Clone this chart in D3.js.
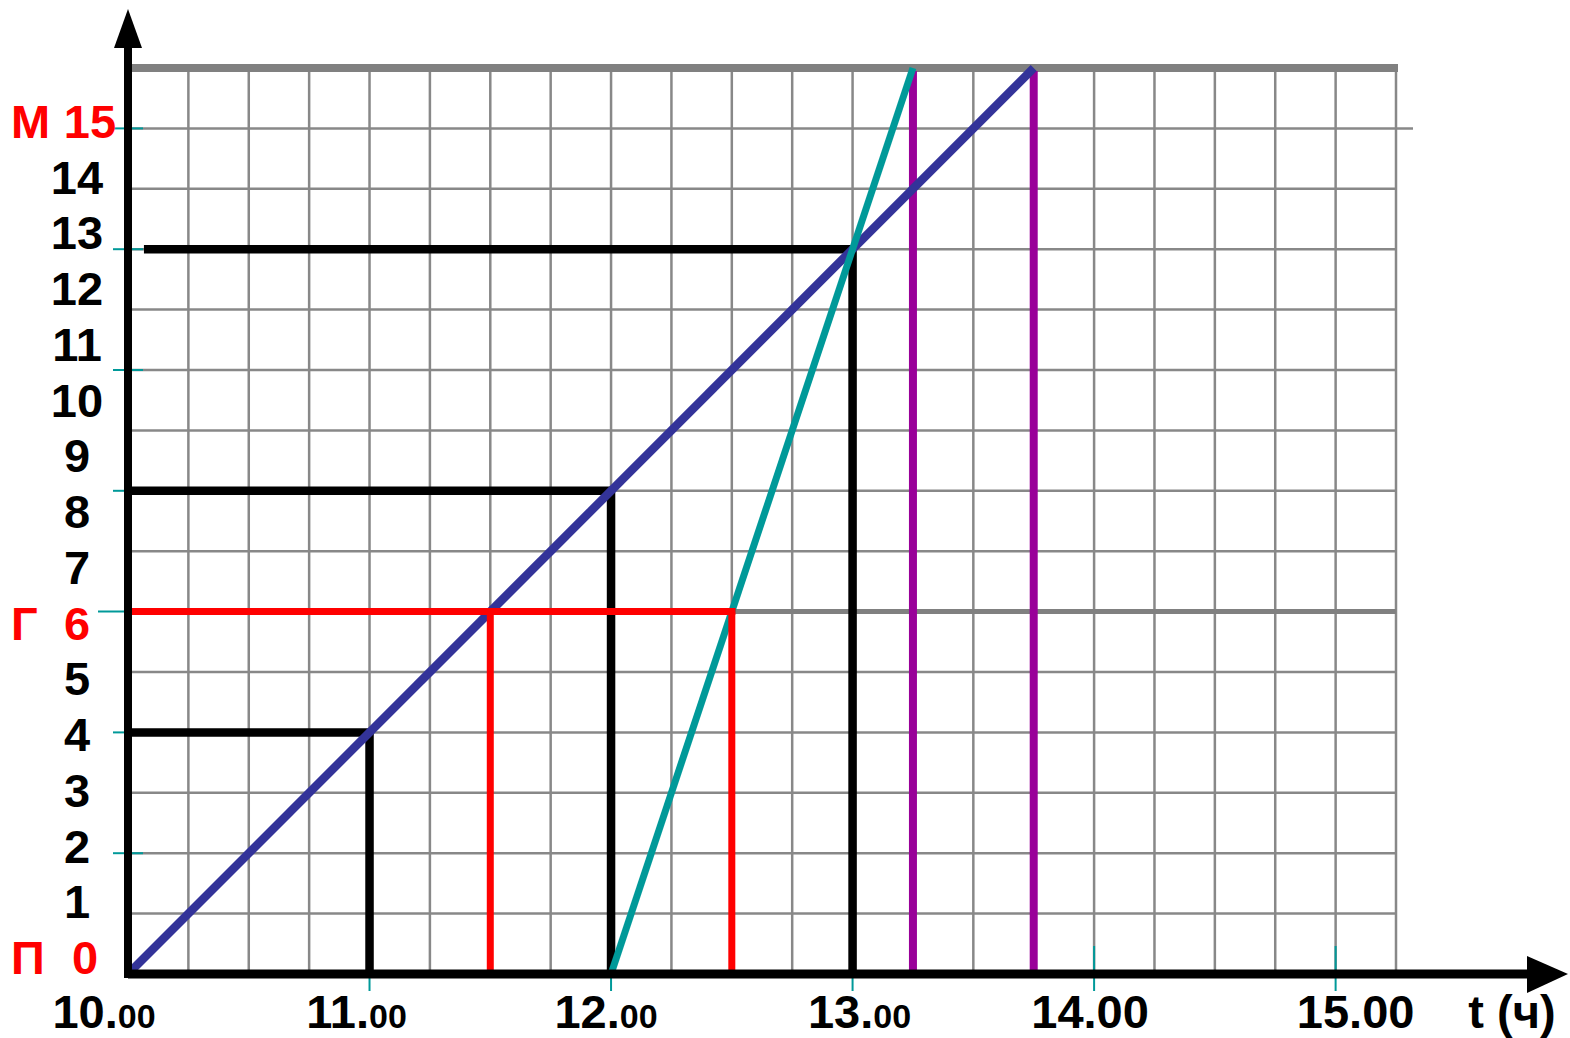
<!DOCTYPE html>
<html>
<head>
<meta charset="utf-8">
<script src="https://cdn.jsdelivr.net/npm/d3@7"></script>
<style>
  body { margin: 0; background: #fff; }
  svg { display: block; font-family: "Liberation Sans", Arial, sans-serif; font-weight: bold; }
</style>
</head>
<body>
<svg id="chart" width="1570" height="1038"></svg>
<script>
// time axis (hours) and its labels
const timeTicks = [10, 11, 12, 13, 14, 15];
const timeLabels = ["10.", "11.", "12.", "13.", "14.00", "15.00"];
const timeSmall = ["00", "00", "00", "00", "", ""];

// distance labels on the left, places marked in red
const distLabels = d3.range(0, 16);
const placeNames = { 0: "П", 6: "Г", 15: "М" };
const distTicks = [2, 4, 6, 8, 10, 12, 14];

// movement lines, in grid units [time, distance]
const blueLine = [[10, 0], [13.75, 15]];
const tealLine = [[12, 0], [13.25, 15]];
const purpleTimes = [13.25, 13.75];

// black read-off lines: time, distance, start of horizontal
const blackMarks = [
  { t: 11, d: 4, from: 10 },
  { t: 12, d: 8, from: 10 },
  { t: 13, d: 12, from: 10.066 }
];
// red: level of Г and the two crossings
const redLevel = 6;
const redTimes = [11.5, 12.5];
const grayLevelEnd = 15.25;

const svg = d3.select("#chart");

const x = d3.scaleLinear().domain([10, 15.25]).range([128, 1396]);
const y = d3.scaleLinear().domain([0, 15]).range([974, 68]);
// the distance labels are spaced on their own
const yLabel = d3.scaleLinear().domain([0, 15]).range([974, 138]);

const gridColor = "#888888";

// grid
const grid = svg.append("g");
grid.selectAll(".gv")
  .data(d3.range(10.25, 15.26, 0.25))
  .join("line")
  .attr("x1", d => x(d)).attr("x2", d => x(d))
  .attr("y1", y(15)).attr("y2", y(0))
  .attr("stroke", gridColor).attr("stroke-width", 2.5);

grid.selectAll(".gh")
  .data(d3.range(1, 15))
  .join("line")
  .attr("x1", x(10))
  .attr("x2", d => d === 14 ? x(15.25) + 17 : x(15.25))
  .attr("y1", d => y(d)).attr("y2", d => y(d))
  .attr("stroke", gridColor).attr("stroke-width", 2.5);

// top border
svg.append("line")
  .attr("x1", x(10)).attr("x2", x(15.25) + 2)
  .attr("y1", y(15)).attr("y2", y(15))
  .attr("stroke", "#808080").attr("stroke-width", 8);

// gray continuation of Г level
svg.append("line")
  .attr("x1", x(redTimes[1])).attr("x2", x(grayLevelEnd))
  .attr("y1", y(redLevel)).attr("y2", y(redLevel))
  .attr("stroke", "#808080").attr("stroke-width", 5);

// teal ticks
svg.selectAll(".ty")
  .data(distTicks)
  .join("line")
  .attr("x1", d => d === 6 ? 98 : 113).attr("x2", 143)
  .attr("y1", d => y(d)).attr("y2", d => y(d))
  .attr("stroke", "#009999").attr("stroke-width", 2);

svg.selectAll(".tx")
  .data(timeTicks.slice(1))
  .join("line")
  .attr("x1", d => x(d)).attr("x2", d => x(d))
  .attr("y1", d => d >= 14 ? 946 : 976).attr("y2", 991)
  .attr("stroke", "#009999").attr("stroke-width", 2);

// black read-off lines
const black = svg.append("g").attr("stroke", "#000").attr("stroke-width", 8.5).attr("fill", "none");
blackMarks.forEach(m => {
  black.append("path")
    .attr("d", `M${x(m.from)},${y(m.d)}H${x(m.t)}V${y(0)}`);
});

// purple verticals
svg.selectAll(".pv")
  .data(purpleTimes)
  .join("line")
  .attr("x1", d => x(d)).attr("x2", d => x(d))
  .attr("y1", y(15) + 3).attr("y2", y(0))
  .attr("stroke", "#990099").attr("stroke-width", 8);

const line = d3.line().x(d => x(d[0])).y(d => y(d[1]));

svg.append("path").datum(blueLine)
  .attr("d", line).attr("stroke", "#333399").attr("stroke-width", 8.5).attr("fill", "none");

svg.append("path").datum(tealLine)
  .attr("d", line).attr("stroke", "#009999").attr("stroke-width", 7).attr("fill", "none");

// red lines
svg.append("line")
  .attr("x1", x(10)).attr("x2", x(redTimes[1]) + 3.5)
  .attr("y1", y(redLevel)).attr("y2", y(redLevel))
  .attr("stroke", "#ff0000").attr("stroke-width", 7);
svg.selectAll(".rv")
  .data(redTimes)
  .join("line")
  .attr("x1", d => x(d)).attr("x2", d => x(d))
  .attr("y1", y(redLevel) - 3.5).attr("y2", y(0))
  .attr("stroke", "#ff0000").attr("stroke-width", 7);

// axes with arrows
svg.append("line")
  .attr("x1", x(10)).attr("x2", 1530)
  .attr("y1", y(0)).attr("y2", y(0))
  .attr("stroke", "#000").attr("stroke-width", 9);
svg.append("path")
  .attr("d", `M1568,${y(0)}L1527,${y(0) - 18}L1527,${y(0) + 19}Z`)
  .attr("fill", "#000");

svg.append("line")
  .attr("x1", x(10)).attr("x2", x(10))
  .attr("y1", y(0) + 4).attr("y2", 45)
  .attr("stroke", "#000").attr("stroke-width", 8);
svg.append("path")
  .attr("d", `M${x(10)},9L${x(10) - 14},48L${x(10) + 14},48Z`)
  .attr("fill", "#000");

// distance labels
const labels = svg.append("g").attr("font-size", 47);
labels.selectAll(".dl")
  .data(distLabels)
  .join("text")
  .attr("x", d => placeNames[d] ? (d === 15 ? 90 : 85 - (d === 6 ? 8 : 0)) : 77)
  .attr("y", d => yLabel(d))
  .attr("text-anchor", "middle")
  .attr("fill", d => placeNames[d] ? "#ff0000" : "#000")
  .text(d => d);

labels.selectAll(".pn")
  .data(distLabels.filter(d => placeNames[d]))
  .join("text")
  .attr("x", 11)
  .attr("y", d => yLabel(d))
  .attr("fill", "#ff0000")
  .text(d => placeNames[d]);

// time labels
const xNudge = { 10: -24, 11: -13, 12: -5, 13: 7, 14: -4, 15: 20 };
const tl = svg.append("g").attr("fill", "#000");
timeTicks.forEach((t, i) => {
  const txt = tl.append("text")
    .attr("x", x(t) + xNudge[t])
    .attr("y", 1028)
    .attr("text-anchor", "middle")
    .attr("font-size", 47);
  txt.append("tspan").text(timeLabels[i]);
  if (timeSmall[i]) txt.append("tspan").attr("font-size", 34).text(timeSmall[i]);
});

tl.append("text")
  .attr("x", 1512).attr("y", 1028)
  .attr("text-anchor", "middle")
  .attr("font-size", 47)
  .text("t (ч)");
</script>
</body>
</html>
